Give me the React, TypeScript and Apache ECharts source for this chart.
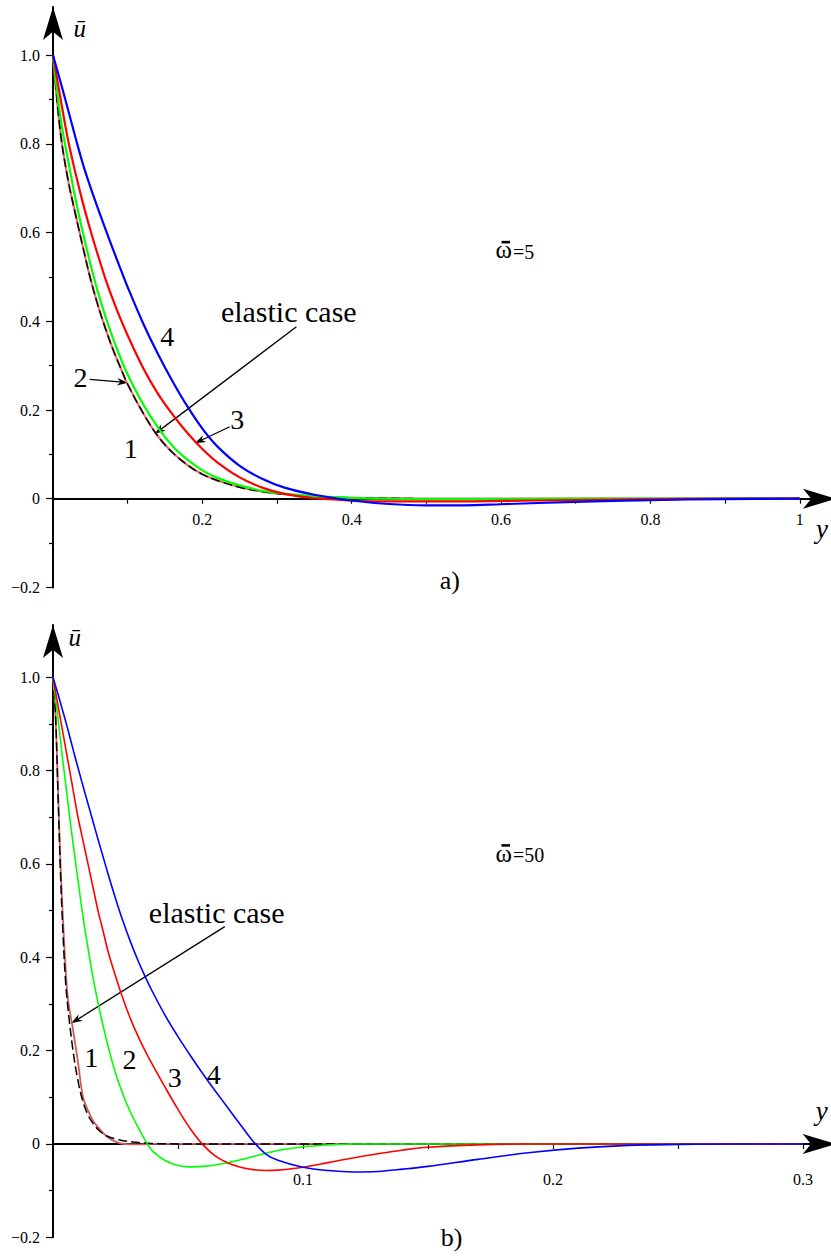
import React, { useEffect, useRef } from "react";
import * as echarts from "echarts";

// ---------- data: panel a) (omega = 5) ----------
const TOP_X = [0, 0.01, 0.02, 0.03, 0.04, 0.05, 0.06, 0.07, 0.08, 0.09, 0.1, 0.12, 0.14, 0.16, 0.18, 0.2, 0.22, 0.25, 0.28, 0.31, 0.35, 0.4, 0.45, 0.5, 0.55, 0.6, 0.7, 0.8, 0.9, 1.0];
const TOP_ELASTIC = [1.0, 0.825, 0.72, 0.642, 0.568, 0.497, 0.437, 0.385, 0.338, 0.297, 0.258, 0.195, 0.142, 0.104, 0.076, 0.055, 0.041, 0.026, 0.016, 0.01, 0.005, 0.002, 0.001, 0, 0, 0, 0, 0, 0, 0];
const TOP_C1 = [1.0, 0.825, 0.72, 0.642, 0.568, 0.497, 0.437, 0.385, 0.338, 0.297, 0.258, 0.195, 0.142, 0.104, 0.076, 0.055, 0.041, 0.026, 0.016, 0.01, 0.005, 0.002, 0.001, 0, 0, 0, 0, 0, 0, 0];
const TOP_C2 = [1.0, 0.86, 0.765, 0.677, 0.6, 0.53, 0.467, 0.412, 0.363, 0.319, 0.28, 0.215, 0.162, 0.119, 0.088, 0.064, 0.047, 0.03, 0.018, 0.011, 0.006, 0.002, 0, -0.001, -0.001, -0.001, 0, 0, 0, 0];
const TOP_C3 = [1.0, 0.903, 0.81, 0.735, 0.667, 0.606, 0.55, 0.497, 0.45, 0.407, 0.368, 0.297, 0.238, 0.19, 0.148, 0.112, 0.082, 0.048, 0.025, 0.011, 0.001, -0.004, -0.006, -0.006, -0.006, -0.005, -0.003, -0.001, 0, 0];
const TOP_C4 = [1.0, 0.94, 0.878, 0.815, 0.755, 0.703, 0.655, 0.609, 0.564, 0.52, 0.477, 0.398, 0.328, 0.265, 0.208, 0.158, 0.118, 0.074, 0.045, 0.025, 0.009, -0.004, -0.012, -0.015, -0.015, -0.0125, -0.007, -0.003, -0.001, 0];

// ---------- data: panel b) (omega = 50) ----------
const BOT_X = [0, 0.001, 0.002, 0.003, 0.004, 0.005, 0.006, 0.008, 0.01, 0.012, 0.014, 0.016, 0.018, 0.02, 0.022, 0.025, 0.028, 0.031, 0.034, 0.037, 0.04, 0.045, 0.05, 0.055, 0.06, 0.065, 0.07, 0.075, 0.08, 0.085, 0.09, 0.1, 0.11, 0.12, 0.13, 0.14, 0.15, 0.17, 0.19, 0.21, 0.23, 0.25, 0.27, 0.3];
const BOT_ELASTIC = [1.0, 0.92, 0.75, 0.58, 0.45, 0.35, 0.29, 0.2, 0.135, 0.09, 0.062, 0.044, 0.031, 0.022, 0.016, 0.011, 0.007, 0.005, 0.003, 0.002, 0.001, 0.0005, 0, 0, 0, 0, 0, 0, 0, 0, 0, 0, 0, 0, 0, 0, 0, 0, 0, 0, 0, 0, 0, 0];
const BOT_C1 = [1.0, 0.92, 0.76, 0.6, 0.48, 0.38, 0.31, 0.245, 0.175, 0.1, 0.072, 0.05, 0.036, 0.024, 0.014, 0.005, 0, -0.001, -0.001, -0.001, 0, 0, 0, 0, 0, 0, 0, 0, 0, 0, 0, 0, 0, 0, 0, 0, 0, 0, 0, 0, 0, 0, 0, 0];
const BOT_C2 = [1.0, 0.955, 0.912, 0.865, 0.818, 0.775, 0.73, 0.645, 0.565, 0.487, 0.42, 0.357, 0.303, 0.254, 0.21, 0.152, 0.106, 0.068, 0.036, 0.007, -0.016, -0.036, -0.046, -0.049, -0.048, -0.045, -0.04, -0.034, -0.027, -0.02, -0.014, -0.006, -0.002, 0, 0, 0, 0, 0, 0, 0, 0, 0, 0, 0];
const BOT_C3 = [1.0, 0.97, 0.94, 0.91, 0.88, 0.85, 0.82, 0.76, 0.7, 0.65, 0.6, 0.55, 0.5, 0.457, 0.413, 0.36, 0.311, 0.268, 0.231, 0.198, 0.168, 0.12, 0.074, 0.032, -0.002, -0.026, -0.041, -0.05, -0.055, -0.057, -0.056, -0.05, -0.04, -0.03, -0.021, -0.013, -0.007, -0.002, 0, 0, 0, 0, 0, 0];
const BOT_C4 = [1.0, 0.982, 0.964, 0.945, 0.926, 0.907, 0.887, 0.846, 0.806, 0.767, 0.729, 0.691, 0.653, 0.616, 0.579, 0.526, 0.477, 0.433, 0.393, 0.357, 0.324, 0.274, 0.23, 0.189, 0.15, 0.113, 0.077, 0.041, 0.006, -0.021, -0.035, -0.05, -0.057, -0.06, -0.059, -0.054, -0.048, -0.033, -0.019, -0.009, -0.003, -0.001, 0, 0];

// ---------- ticks / labels ----------
const TOP_X_TICKS = [0.1, 0.2, 0.3, 0.4, 0.5, 0.6, 0.7, 0.8, 0.9, 1.0];
const TOP_X_LABELS = [0.2, 0.4, 0.6, 0.8, 1.0];
const BOT_X_TICKS = [0.05, 0.1, 0.15, 0.2, 0.25, 0.3];
const BOT_X_LABELS = [0.1, 0.2, 0.3];
const Y_MAJOR_TICKS = [-0.2, 0, 0.2, 0.4, 0.6, 0.8, 1.0];
const Y_MINOR_TICKS = [-0.1, 0.1, 0.3, 0.5, 0.7, 0.9];
const Y_LABELS = [-0.2, 0, 0.2, 0.4, 0.6, 0.8, 1.0];

// ---------- annotations (data coordinates) ----------
const TOP_NOTES = [
  { text: "4", x: 0.153, y: 0.365 },
  { text: "2", x: 0.0367, y: 0.274 },
  { text: "1", x: 0.104, y: 0.114 },
  { text: "3", x: 0.2467, y: 0.1797 },
];
const TOP_ARROWS = [
  [0.0492, 0.269, 0.1005, 0.2616],
  [0.2367, 0.1623, 0.1898, 0.1249],
  [0.326, 0.3878, 0.1362, 0.1459],
];
const BOT_NOTES = [
  { text: "1", x: 0.01528, y: 0.1843 },
  { text: "2", x: 0.03056, y: 0.18 },
  { text: "3", x: 0.0487, y: 0.1414 },
  { text: "4", x: 0.0643, y: 0.149 },
];
const BOT_ARROWS = [[0.0687, 0.4656, 0.00736, 0.2586]];

const SERIF = "'Liberation Serif', 'Times New Roman', Times, serif";
const TOP_PX_PER_UNIT = 443.5;
const BOT_PX_PER_UNIT = 466.7;

export default function App() {
  const ref = useRef<HTMLDivElement>(null);

  useEffect(() => {
    const chart = echarts.init(ref.current as HTMLDivElement, null, { renderer: "svg" });
    const pairs = (xs: number[], ys: number[]) => xs.map((x, i) => [x, ys[i]]);
    const yFmt = (v: number) => {
      if (Math.abs(v) < 1e-9) return "0";
      if (v < 0) return "\u2212" + Math.abs(v).toFixed(1);
      return v.toFixed(1);
    };
    const axisLine = {
      show: true,
      onZero: false,
      symbol: ["none", "arrow"],
      symbolSize: [15, 33],
      lineStyle: { color: "#000", width: 2 },
    };
    const labelStyle = { fontFamily: SERIF, fontSize: 16, color: "#000" };

    const xAxis = (gridIndex: number, max: number, interval: number, offset: number, ticks: number[], labels: number[], margin: number, fmt: (v: number) => string) => ({
      type: "value",
      gridIndex,
      position: "bottom",
      offset,
      min: 0,
      max,
      interval,
      axisLine,
      splitLine: { show: false },
      axisTick: { show: true, customValues: ticks, length: 5, lineStyle: { color: "#000", width: 1.2 } },
      axisLabel: {
        ...labelStyle,
        customValues: labels,
        margin,
        formatter: (v: number) => (labels.some((l) => Math.abs(l - v) < 1e-6) ? fmt(v) : ""),
      },
    });
    const yAxis = (gridIndex: number, max: number) => ({
      type: "value",
      gridIndex,
      position: "left",
      min: -0.2,
      max,
      interval: 0.1,
      axisLine,
      splitLine: { show: false },
      axisTick: { show: true, customValues: Y_MAJOR_TICKS, length: 7, lineStyle: { color: "#000", width: 1.2 } },
      axisLabel: {
        ...labelStyle,
        customValues: Y_LABELS,
        margin: 13,
        formatter: (v: number) => (Y_LABELS.some((l) => Math.abs(l - v) < 1e-6) ? yFmt(v) : ""),
      },
    });
    const yMinorAxis = (gridIndex: number, max: number) => ({
      type: "value",
      gridIndex,
      position: "left",
      min: -0.2,
      max,
      interval: 0.1,
      axisLine: { show: false, onZero: false },
      splitLine: { show: false },
      axisTick: { show: true, customValues: Y_MINOR_TICKS, length: 4, lineStyle: { color: "#000", width: 1.2 } },
      axisLabel: { show: false },
    });

    const line = (name: string, xi: number, data: number[][], color: string, width: number, dashed = false) => ({
      type: "line",
      name,
      xAxisIndex: xi,
      yAxisIndex: xi,
      data,
      showSymbol: false,
      symbol: "none",
      smooth: 0.35,
      lineStyle: { color, width, type: dashed ? [9, 4] : "solid" },
      silent: true,
    });

    const option: any = {
      animation: false,
      backgroundColor: "#fff",
      textStyle: { fontFamily: SERIF },
      grid: [
        { left: 53, top: 7, width: 783, height: 580.4, outerBoundsMode: "none", containLabel: false },
        { left: 53, top: 625, width: 782.7, height: 612.3, outerBoundsMode: "none", containLabel: false },
      ],
      xAxis: [
        xAxis(0, 1.0485, 0.1, -0.2 * TOP_PX_PER_UNIT, TOP_X_TICKS, TOP_X_LABELS, 13, (v) => (Math.abs(v - 1) < 1e-6 ? "1" : v.toFixed(1))),
        xAxis(1, 0.3131, 0.05, -0.2 * BOT_PX_PER_UNIT, BOT_X_TICKS, BOT_X_LABELS, 28, (v) => v.toFixed(1)),
      ],
      yAxis: [yAxis(0, 1.1087), yAxis(1, 1.112), yMinorAxis(0, 1.1087), yMinorAxis(1, 1.112)],
      series: [
        line("1", 0, pairs(TOP_X, TOP_C1), "#e07070", 2.2),
        line("elastic", 0, pairs(TOP_X, TOP_ELASTIC), "#000", 1.5, true),
        line("2", 0, pairs(TOP_X, TOP_C2), "#00ff00", 2.2),
        line("3", 0, pairs(TOP_X, TOP_C3), "#ff0000", 2.2),
        line("4", 0, pairs(TOP_X, TOP_C4), "#0000ff", 2.2),
        line("1", 1, pairs(BOT_X, BOT_C1), "#d25a5a", 1.8),
        line("elastic", 1, pairs(BOT_X, BOT_ELASTIC), "#000", 1.5, true),
        line("2", 1, pairs(BOT_X, BOT_C2), "#00ff00", 1.6),
        line("3", 1, pairs(BOT_X, BOT_C3), "#ff0000", 1.6),
        line("4", 1, pairs(BOT_X, BOT_C4), "#0000ff", 1.6),
      ],
    };
    chart.setOption(option);

    const P = (g: number, x: number, y: number) => chart.convertToPixel({ gridIndex: g } as any, [x, y]) as number[];
    const els: any[] = [];
    const textPx = (px: number, py: number, t: string, size: number, italic = false, align = "center") => {
      els.push({
        type: "text",
        x: px,
        y: py,
        silent: true,
        style: { text: t, fontFamily: SERIF, fontSize: size, fontStyle: italic ? "italic" : "normal", fill: "#000", align, verticalAlign: "middle" },
      });
    };
    const text = (g: number, x: number, y: number, t: string, size: number, italic = false) => {
      const [px, py] = P(g, x, y);
      textPx(px, py, t, size, italic);
    };
    // omega with a bar, anchored at its left edge and baseline
    const omega = (g: number, x: number, y: number, t: string) => {
      const [px, baseY] = P(g, x, y);
      textPx(px - 1, baseY - 0.3375 * 25, "\u03C9", 25, false, "left");
      textPx(px + 16.5, baseY - 0.3375 * 20, t, 20, false, "left");
      els.push({ type: "rect", silent: true, shape: { x: px + 5, y: baseY - 17.5, width: 8.5, height: 2.6 }, style: { fill: "#000" } });
    };
    const arrow = (g: number, a: number[]) => {
      const [x1, y1] = P(g, a[0], a[1]);
      const [x2, y2] = P(g, a[2], a[3]);
      const dx = x2 - x1, dy = y2 - y1;
      const L = Math.hypot(dx, dy);
      const ux = dx / L, uy = dy / L;
      const nx = -uy, ny = ux;
      els.push({ type: "line", silent: true, shape: { x1, y1, x2: x2 - ux * 6, y2: y2 - uy * 6 }, style: { stroke: "#000", lineWidth: 1.3 } });
      els.push({
        type: "polygon",
        silent: true,
        shape: {
          points: [
            [x2, y2],
            [x2 - ux * 11 + nx * 3.8, y2 - uy * 11 + ny * 3.8],
            [x2 - ux * 7.5, y2 - uy * 7.5],
            [x2 - ux * 11 - nx * 3.8, y2 - uy * 11 - ny * 3.8],
          ],
        },
        style: { fill: "#000" },
      });
    };

    TOP_NOTES.forEach((n) => text(0, n.x, n.y, n.text, 28));
    TOP_ARROWS.forEach((a) => arrow(0, a));
    text(0, 0.3157, 0.4216, "elastic case", 30);
    omega(0, 0.594, 0.542, "=5");
    text(0, 0.0358, 1.06, "\u016B", 25, true);
    text(0, 1.0297, -0.0683, "y", 27, true);
    text(0, 0.5314, -0.1844, "a)", 26);

    BOT_NOTES.forEach((n) => text(1, n.x, n.y, n.text, 28));
    BOT_ARROWS.forEach((a) => arrow(1, a));
    text(1, 0.0655, 0.495, "elastic case", 30);
    omega(1, 0.1774, 0.605, "=50");
    text(1, 0.00868, 1.086, "\u016B", 25, true);
    text(1, 0.3075, 0.0711, "y", 27, true);
    text(1, 0.1594, -0.2014, "b)", 26);

    chart.setOption({ graphic: els });

    return () => chart.dispose();
  }, []);

  return <div ref={ref} style={{ position: "absolute", left: 0, top: 0, width: 831, height: 1257 }} />;
}
